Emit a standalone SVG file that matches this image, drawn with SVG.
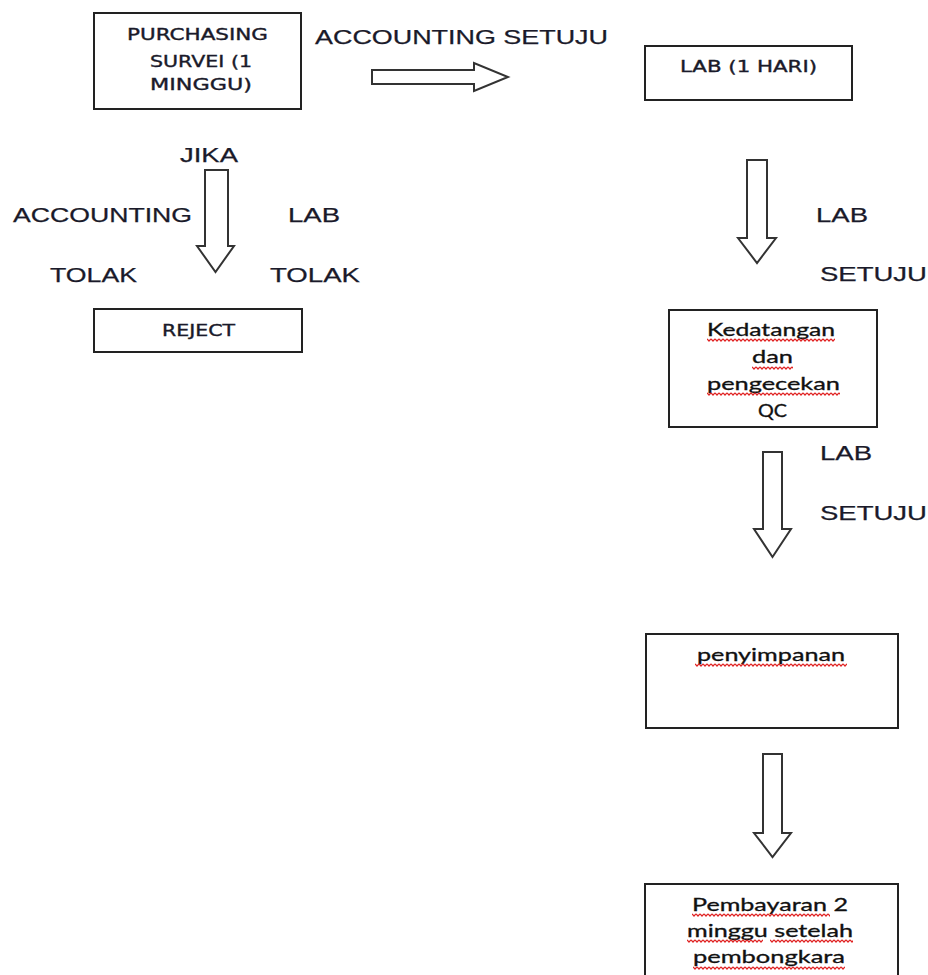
<svg xmlns="http://www.w3.org/2000/svg" width="928" height="975" viewBox="0 0 928 975">
<style>
.box{fill:#fff;stroke:#222;stroke-width:2}
.arr{fill:#fff;stroke:#333;stroke-width:2;stroke-linejoin:miter}
.cap{font-family:"DejaVu Sans","Liberation Sans",sans-serif;font-size:15px;fill:#1a1a2a;stroke:#1a1a2a;stroke-width:0.35}
.lbl{font-family:"Liberation Sans",Arial,sans-serif;font-size:20px;fill:#1a1a2a;stroke:#1a1a2a;stroke-width:0.25}
.low{font-family:Lato,"Open Sans",sans-serif;font-size:17px;fill:#111;stroke:#111;stroke-width:0.3}
</style>
<defs>
<pattern id="sq" width="4" height="4" patternUnits="userSpaceOnUse">
<path d="M0,0.8 L2,3 L4,0.8" fill="none" stroke="#e02020" stroke-width="1.2"/>
</pattern>
</defs>
<rect width="928" height="975" fill="#fff"/>

<g id="connectors">
<polygon class="arr" points="372,70 474,70 474,63 508,77 474,91 474,84 372,84"/>
<polygon class="arr" points="205,170 228,170 228,246 234,246 215.5,272 197,246 205,246"/>
<polygon class="arr" points="747,160 767,160 767,238 776,238 757,263 738,238 747,238"/>
<polygon class="arr" points="763,452 782,452 782,529 791,529 772.5,557 754,529 763,529"/>
<polygon class="arr" points="763,754 782,754 782,833 791,833 772.5,857 754,833 763,833"/>
</g>

<g id="labels">
<text class="lbl" x="315" y="44" textLength="293" lengthAdjust="spacingAndGlyphs">ACCOUNTING SETUJU</text>
<text class="lbl" x="180" y="162" textLength="58" lengthAdjust="spacingAndGlyphs">JIKA</text>
<text class="lbl" x="13" y="222" textLength="179" lengthAdjust="spacingAndGlyphs">ACCOUNTING</text>
<text class="lbl" x="288" y="222" textLength="52" lengthAdjust="spacingAndGlyphs">LAB</text>
<text class="lbl" x="50" y="282" textLength="87" lengthAdjust="spacingAndGlyphs">TOLAK</text>
<text class="lbl" x="270" y="282" textLength="90" lengthAdjust="spacingAndGlyphs">TOLAK</text>
<text class="lbl" x="816" y="222" textLength="52" lengthAdjust="spacingAndGlyphs">LAB</text>
<text class="lbl" x="820" y="281" textLength="107" lengthAdjust="spacingAndGlyphs">SETUJU</text>
<text class="lbl" x="820" y="460" textLength="52" lengthAdjust="spacingAndGlyphs">LAB</text>
<text class="lbl" x="820" y="520" textLength="107" lengthAdjust="spacingAndGlyphs">SETUJU</text>
</g>

<g id="purchasing">
<rect class="box" x="94" y="13" width="207" height="96"/>
<text class="cap" x="127" y="40" textLength="141" lengthAdjust="spacingAndGlyphs">PURCHASING</text>
<text class="cap" x="150" y="67" textLength="102" lengthAdjust="spacingAndGlyphs">SURVEI (1</text>
<text class="cap" x="150" y="90" textLength="102" lengthAdjust="spacingAndGlyphs">MINGGU)</text>
</g>

<g id="lab">
<rect class="box" x="645" y="46" width="207" height="54"/>
<text class="cap" x="680" y="72" textLength="137" lengthAdjust="spacingAndGlyphs">LAB (1 HARI)</text>
</g>

<g id="reject">
<rect class="box" x="94" y="309" width="208" height="43"/>
<text class="cap" x="162" y="336" textLength="73" lengthAdjust="spacingAndGlyphs">REJECT</text>
</g>

<g id="kedatangan">
<rect class="box" x="669" y="310" width="208" height="117"/>
<text class="low" x="707" y="336" textLength="128" lengthAdjust="spacingAndGlyphs">Kedatangan</text>
<text class="low" x="752" y="363" textLength="41" lengthAdjust="spacingAndGlyphs">dan</text>
<text class="low" x="707" y="390" textLength="133" lengthAdjust="spacingAndGlyphs">pengecekan</text>
<text class="low" x="758" y="417" textLength="29" lengthAdjust="spacingAndGlyphs">QC</text>
<rect transform="translate(707,338)" width="128" height="4" fill="url(#sq)"/>
<rect transform="translate(752,366)" width="41" height="4" fill="url(#sq)"/>
<rect transform="translate(707,392)" width="133" height="4" fill="url(#sq)"/>
</g>

<g id="penyimpanan">
<rect class="box" x="646" y="634" width="252" height="94"/>
<text class="low" x="697" y="661" textLength="148" lengthAdjust="spacingAndGlyphs">penyimpanan</text>
<rect transform="translate(695,663)" width="152" height="4" fill="url(#sq)"/>
</g>

<g id="pembayaran">
<rect class="box" x="645" y="884" width="253" height="120"/>
<text class="low" x="692" y="911" textLength="156" lengthAdjust="spacingAndGlyphs">Pembayaran 2</text>
<text class="low" x="687" y="937" textLength="166" lengthAdjust="spacingAndGlyphs">minggu setelah</text>
<text class="low" x="693" y="963" textLength="152" lengthAdjust="spacingAndGlyphs">pembongkara</text>
<rect transform="translate(692,913)" width="138" height="4" fill="url(#sq)"/>
<rect transform="translate(687,939)" width="76" height="4" fill="url(#sq)"/>
<rect transform="translate(770,939)" width="83" height="4" fill="url(#sq)"/>
<rect transform="translate(693,966)" width="152" height="4" fill="url(#sq)"/>
</g>
</svg>
